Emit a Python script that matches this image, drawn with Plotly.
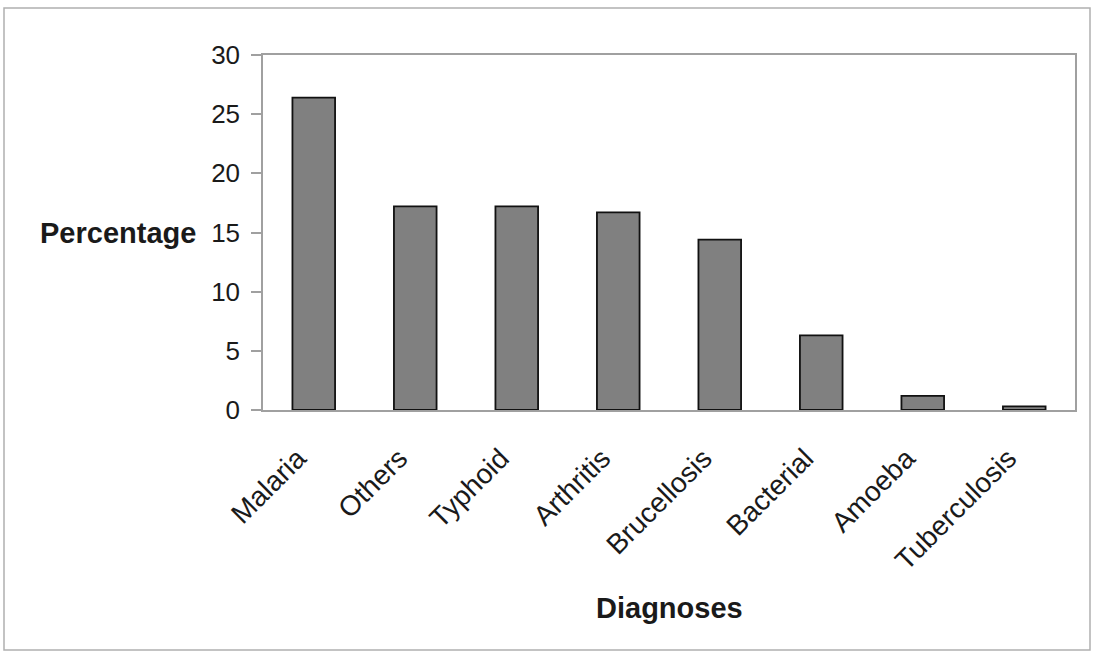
import plotly.graph_objects as go

categories = ["Malaria", "Others", "Typhoid", "Arthritis", "Brucellosis", "Bacterial", "Amoeba", "Tuberculosis"]
percentages = [26.4, 17.2, 17.2, 16.7, 14.4, 6.3, 1.2, 0.3]
y_ticks = [0, 5, 10, 15, 20, 25, 30]

W, H = 1096, 657
L, R, T, B = 263, 21, 55, 247
pw, ph = W - L - R, H - T - B

fig = go.Figure(go.Bar(
    x=categories, y=percentages,
    marker=dict(color="#808080", line=dict(color="#111111", width=1.8)),
    width=0.42,
))

font = "Liberation Sans, Arial, sans-serif"
fig.update_layout(
    width=W, height=H,
    margin=dict(l=L, r=R, t=T, b=B, autoexpand=False),
    paper_bgcolor="white", plot_bgcolor="white",
    showlegend=False,
    font=dict(family=font, color="#1a1a1a", size=22),
    xaxis=dict(
        tickangle=-45, tickfont=dict(size=28, family=font, color="#1a1a1a"),
        ticklabelstandoff=19, ticklabelshift=-16,
        showline=True, linecolor="#a0a0a0", linewidth=1.5, mirror=True,
        ticks="", showgrid=False,
    ),
    yaxis=dict(
        range=[0, 30], tickvals=y_ticks, tickfont=dict(size=26, family=font, color="#1a1a1a"),
        ticklabelstandoff=6,
        showline=True, linecolor="#a0a0a0", linewidth=1.5, mirror=True,
        ticks="outside", ticklen=10, tickcolor="#a0a0a0", tickwidth=1.5,
        showgrid=False, zeroline=False,
    ),
    annotations=[
        dict(text="<b>Percentage</b>", xref="paper", yref="y", x=(198 - L) / pw, y=15,
             xanchor="right", yanchor="middle", showarrow=False,
             font=dict(size=29, family=font, color="#1a1a1a")),
        dict(text="<b>Diagnoses</b>", xref="paper", yref="paper", x=(669 - L) / pw,
             y=-(608 - (T + ph)) / ph, xanchor="center", yanchor="middle", showarrow=False,
             font=dict(size=29, family=font, color="#1a1a1a")),
    ],
    shapes=[
        dict(type="rect", xref="paper", yref="paper",
             x0=(4 - L) / pw, x1=(1090 - L) / pw,
             y0=1 + (T - 8) / ph, y1=-(650 - T - ph) / ph,
             line=dict(color="#b0b0b0", width=1.5), fillcolor="rgba(0,0,0,0)", layer="below"),
    ],
)

fig.write_html("out.html", config={"displayModeBar": False},
               post_script="document.body.style.margin='0';")
